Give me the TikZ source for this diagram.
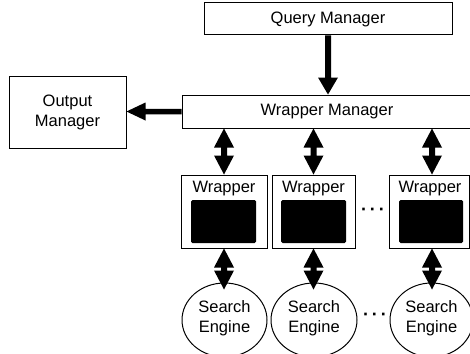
\documentclass[tikz,border=0pt]{standalone}
\usepackage{fontspec}
\setmainfont{Liberation Sans}
\usetikzlibrary{calc,shapes.geometric}
\newcommand\mkdbl[2]{\fill[arrowfill] let \p1=(#1), \p2=(#2) in
  (\x1,\y1) -- (\x1+10pt,\y1-19pt) -- (\x1+3pt,\y1-19pt) -- (\x1+3pt,\y2+19pt)
  -- (\x1+10pt,\y2+19pt) -- (\x1,\y2) -- (\x1-10pt,\y2+19pt) -- (\x1-3pt,\y2+19pt)
  -- (\x1-3pt,\y1-19pt) -- (\x1-10pt,\y1-19pt) -- cycle;}
\newcommand\mkdown[2]{\fill[arrowfill] let \p1=(#1), \p2=(#2) in
  (\x1-3pt,\y1) -- (\x1+3pt,\y1) -- (\x1+3pt,\y2+17pt) -- (\x1+10pt,\y2+17pt)
  -- (\x1,\y2) -- (\x1-10pt,\y2+17pt) -- (\x1-3pt,\y2+17pt) -- cycle;}
\newcommand\mkleft[2]{\fill[arrowfill] let \p1=(#1), \p2=(#2) in
  (\x1,\y1+2.75pt) -- (\x2+19pt,\y1+2.75pt) -- (\x2+19pt,\y1+9pt) -- (\x2,\y1)
  -- (\x2+19pt,\y1-9pt) -- (\x2+19pt,\y1-2.75pt) -- (\x1,\y1-2.75pt) -- cycle;}
\begin{document}
\begin{tikzpicture}[x=1pt,y=-1pt,
  box/.style={draw,line width=1pt,inner sep=0pt,font=\fontsize{16.5}{19}\selectfont},
  lbl/.style={inner sep=0pt,font=\fontsize{16.5}{19}\selectfont,align=center},
  blk/.style={fill=black,rounded corners=1.5pt,inner sep=0pt},
  eng/.style={draw,line width=1pt,ellipse,inner sep=0pt},
  arrowfill/.style={fill=black},
  dots/.style={inner sep=0pt,font=\fontsize{18}{20}\bfseries}]
\useasboundingbox (0,0) rectangle (470,353);
\node[box,minimum width=248pt,minimum height=32pt] (qm) at (328,19) {Query Manager};
\node[box,minimum width=290pt,minimum height=33pt] (wm) at (327,111.5) {Wrapper Manager};
\node[box,minimum width=117pt,minimum height=72pt,align=center,font=\fontsize{16.5}{20}\selectfont] (om) at (67.5,112) {Output\\Manager};
% wrappers
\node[box,minimum width=86pt,minimum height=73pt] (w1) at (224,211.5) {};
\node[box,minimum width=83pt,minimum height=73pt] (w2) at (313.5,211.5) {};
\node[box,minimum width=80pt,minimum height=73pt] (w3) at (429,211.5) {};
\node[lbl] (l1) at (224,189) {Wrapper};
\node[lbl] (l2) at (313.5,189) {Wrapper};
\node[lbl] (l3) at (430,189) {Wrapper};
\node[blk,minimum width=65pt,minimum height=43pt] (b1) at (223.5,221.5) {};
\node[blk,minimum width=65pt,minimum height=43pt] (b2) at (313.5,221.5) {};
\node[blk,minimum width=64pt,minimum height=43pt] (b3) at (431,221.5) {};
% engines
\node[eng,minimum width=85pt,minimum height=74pt] (e1) at (224.5,320) {};
\node[eng,minimum width=86pt,minimum height=74pt] (e2) at (314,320) {};
\node[eng,minimum width=83pt,minimum height=74pt] (e3) at (431.5,320) {};
\node[lbl,font=\fontsize{16.5}{20}\selectfont] (t1) at (224.5,318) {Search\\Engine};
\node[lbl,font=\fontsize{16.5}{20}\selectfont] (t2) at (314,318) {Search\\Engine};
\node[lbl,font=\fontsize{16.5}{20}\selectfont] (t3) at (431.5,318) {Search\\Engine};
% dots
\node[dots] (d1) at (373,212) {·\,·\,·};
\node[dots] (d2) at (375,317) {·\,·\,·};
% arrows
\mkdown{qm.south}{qm.south |- wm.north}
\mkleft{wm.west}{om.east}
\mkdbl{w1.north |- wm.south}{w1.north}
\mkdbl{w2.north |- wm.south}{w2.north}
\mkdbl{[xshift=3pt]w3.north |- wm.south}{[xshift=3pt]w3.north}
\mkdbl{w1.south}{[yshift=-7pt]e1.north}
\mkdbl{w2.south}{[yshift=-7pt]e2.north}
\mkdbl{[xshift=3pt]w3.south}{[xshift=3pt,yshift=-7pt]e3.north}
\end{tikzpicture}
\end{document}
